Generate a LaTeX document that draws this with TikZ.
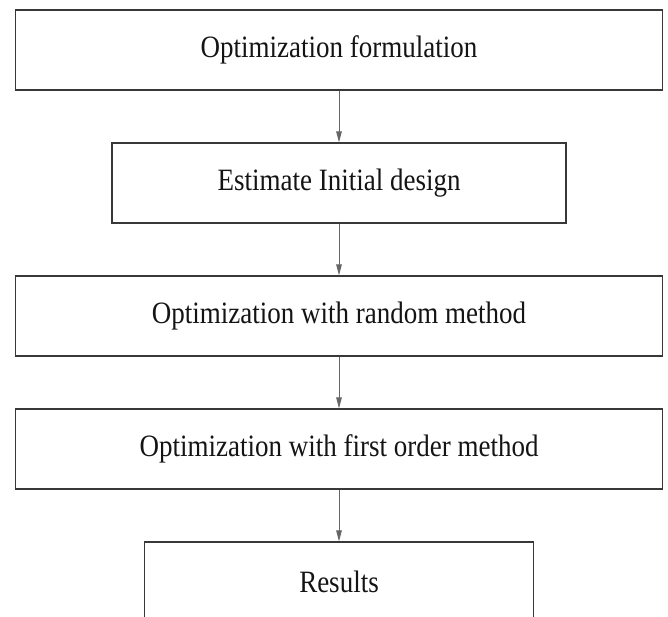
\documentclass[tikz,border=0pt]{standalone}
\usepackage{graphicx}
\usepackage{fontspec}
\setmainfont{Liberation Serif}
\usetikzlibrary{arrows.meta}
\newcommand{\tallt}[1]{\scalebox{1}[1.15]{#1}}
\begin{document}
\begin{tikzpicture}[x=1pt,y=-1pt,
  box/.style={draw=black!78,line width=1.1pt,minimum height=80pt,inner sep=0pt,font=\fontsize{27}{32}\selectfont,text=black!92},
  flow/.style={draw=black!60,line width=1pt,-{Triangle[length=11pt,width=5.5pt]}}]
\clip (0,0) rectangle (668,616);
\useasboundingbox (0,0) rectangle (668,616);
\node[box,minimum width=647pt] (b1) at (339,50) {\tallt{Optimization formulation}};
\node[box,minimum width=454pt] (b2) at (339,183) {\tallt{Estimate Initial design}};
\node[box,minimum width=647pt] (b3) at (339,316) {\tallt{Optimization with random method}};
\node[box,minimum width=647pt] (b4) at (339,449) {\tallt{Optimization with first order method}};
\node[box,minimum width=389pt] (b5) at (339,582) {\tallt{Results}};
\draw[flow] (b1.south) -- (b2.north);
\draw[flow] (b2.south) -- (b3.north);
\draw[flow] (b3.south) -- (b4.north);
\draw[flow] (b4.south) -- (b5.north);
\end{tikzpicture}
\end{document}
